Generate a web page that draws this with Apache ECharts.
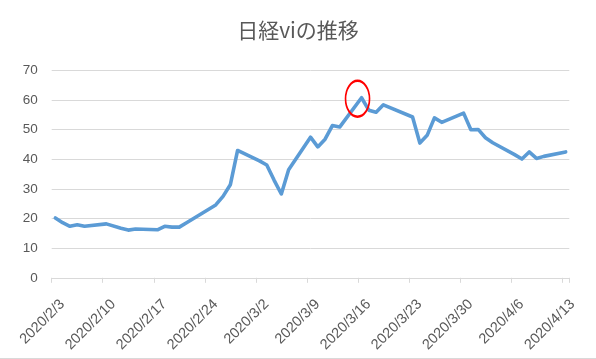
<!DOCTYPE html>
<html>
<head>
<meta charset="utf-8">
<script src="https://cdn.jsdelivr.net/npm/echarts@6/dist/echarts.min.js"></script>
<style>
html,body{margin:0;padding:0;background:#fff;}
#c{width:596px;height:359px;}
</style>
</head>
<body>
<div id="c"></div>
<script>
// Trading days and Nikkei VI closing values
const tradeDates = [
  '2020/2/3','2020/2/4','2020/2/5','2020/2/6','2020/2/7',
  '2020/2/10','2020/2/12','2020/2/13','2020/2/14',
  '2020/2/17','2020/2/18','2020/2/19','2020/2/20','2020/2/21',
  '2020/2/25','2020/2/26','2020/2/27','2020/2/28',
  '2020/3/2','2020/3/3','2020/3/4','2020/3/5','2020/3/6',
  '2020/3/9','2020/3/10','2020/3/11','2020/3/12','2020/3/13',
  '2020/3/16','2020/3/17','2020/3/18','2020/3/19',
  '2020/3/23','2020/3/24','2020/3/25','2020/3/26','2020/3/27',
  '2020/3/30','2020/3/31','2020/4/1','2020/4/2','2020/4/3',
  '2020/4/6','2020/4/7','2020/4/8','2020/4/9','2020/4/10',
  '2020/4/13'
];
const viValues = [
  20.2, 18.6, 17.4, 17.9, 17.4,
  18.2, 16.7, 16.1, 16.5,
  16.2, 17.4, 17.1, 17.1, 18.6,
  24.6, 27.5, 31.4, 43.0,
  39.5, 38.1, 33.0, 28.3, 36.5,
  47.5, 44.2, 46.8, 51.4, 50.9,
  60.8, 56.6, 55.9, 58.4,
  54.3, 45.5, 48.1, 54.0, 52.5,
  55.6, 50.0, 50.1, 47.3, 45.6,
  41.6, 40.1, 42.5, 40.3, 41.0,
  42.5
];
const startDate = '2020/2/3';
const endDate = '2020/4/13';
const yTicks = [0, 10, 20, 30, 40, 50, 60, 70];
const highlightDate = '2020/3/16';
const titleText = '日経viの推移';

// Build the full calendar category list (date axis)
function parseD(s){ const p = s.split('/').map(Number); return Date.UTC(p[0], p[1]-1, p[2]); }
function fmtD(t){ const d = new Date(t); return d.getUTCFullYear() + '/' + (d.getUTCMonth()+1) + '/' + d.getUTCDate(); }
const categories = [];
for (let t = parseD(startDate); t <= parseD(endDate); t += 86400000) categories.push(fmtD(t));
const valueMap = {};
tradeDates.forEach((d, i) => { valueMap[d] = viValues[i]; });
const seriesData = categories.map(c => (c in valueMap ? valueMap[c] : null));

const chart = echarts.init(document.getElementById('c'), null, {renderer: 'canvas'});
const gray = '#595959';
const lineGray = '#d9d9d9';
chart.setOption({
  animation: false,
  backgroundColor: '#ffffff',
  title: {
    text: titleText,
    left: 'center',
    top: 15,
    textStyle: {color: gray, fontSize: 21, fontWeight: 'normal', fontFamily: '"Noto Sans CJK JP", sans-serif'}
  },
  grid: {left: 51.7, right: 26.7, top: 70.5, bottom: 81.2, containLabel: false},
  xAxis: {
    type: 'category',
    data: categories,
    boundaryGap: true,
    axisLine: {show: true, lineStyle: {color: lineGray, width: 1}},
    axisTick: {show: true, interval: 6, length: 5, lineStyle: {color: lineGray}},
    axisLabel: {
      interval: 6, rotate: 45, margin: 17, color: gray, fontSize: 14.5,
      verticalAlign: 'top', lineHeight: 20,
      fontFamily: '"Liberation Sans", Arial, sans-serif'
    },
    splitLine: {show: false}
  },
  yAxis: {
    type: 'value',
    min: yTicks[0],
    max: yTicks[yTicks.length - 1],
    interval: 10,
    axisLine: {show: false},
    axisTick: {show: false},
    axisLabel: {color: gray, fontSize: 13.5, margin: 14, fontFamily: '"Liberation Sans", Arial, sans-serif'},
    splitLine: {show: true, lineStyle: {color: lineGray, width: 1}}
  },
  series: [{
    type: 'line',
    data: seriesData,
    connectNulls: true,
    showSymbol: false,
    symbol: 'none',
    lineStyle: {color: '#5B9BD5', width: 3.6, cap: 'round', join: 'round'},
    markPoint: {
      symbol: 'path://M0,1 A1,1 0 1,1 2,1 A1,1 0 1,1 0,1 Z',
      symbolSize: [24, 36],
      symbolOffset: [-4, 1],
      label: {show: false},
      itemStyle: {color: 'rgba(0,0,0,0)', borderColor: '#FF0000', borderWidth: 2},
      data: [{coord: [highlightDate, valueMap[highlightDate]]}]
    }
  }],
  graphic: [{
    type: 'line',
    shape: {x1: 0, y1: 358.5, x2: 596, y2: 358.5},
    style: {stroke: lineGray, lineWidth: 1},
    silent: true
  }]
});
</script>
</body>
</html>
